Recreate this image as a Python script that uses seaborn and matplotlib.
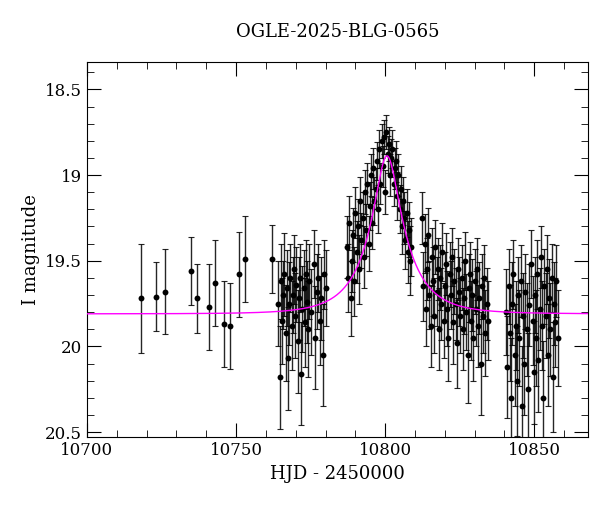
import numpy as np
import matplotlib
matplotlib.use("Agg")
import matplotlib.pyplot as plt
import seaborn as sns
import pandas as pd

hjd = [10718,10723,10726,10735,10737,10741,10743,10746,10748,10751,10753,10762,
 10764.2,10764.6,10765.0,10765.4,10765.8,10766.2,10766.6,10767.0,10767.4,10767.8,10768.2,10768.6,10769.0,10769.4,10769.8,10770.2,10770.6,10771.0,10771.4,10771.8,10772.2,10772.6,10773.0,10773.4,10773.8,10774.2,10774.6,10775.0,10776.0,10776.5,10777.0,10777.5,10778.0,10778.5,10779.0,10779.5,10780.0,
 10787.2,10787.6,10788.0,10788.4,10788.8,10789.2,10789.6,10790.0,10790.4,10790.8,10791.2,10791.6,10792.0,10792.4,10792.8,10793.2,10793.6,10794.0,10794.4,10794.8,10795.2,10795.6,10796.0,10796.4,10796.8,10797.2,10797.6,10798.0,10798.4,10798.8,10799.2,10799.6,10800.0,10800.4,10800.8,10801.2,10801.6,10802.0,10802.4,10802.8,10803.2,10803.6,10804.0,10804.4,10804.8,10805.2,10805.6,10806.0,10806.4,10806.8,10807.2,10807.6,10808.0,10808.4,10808.8,
 10812.4,10812.8,10813.2,10813.6,10814.0,10814.4,10814.8,10815.2,10815.6,10816.0,10816.4,10816.8,10817.2,10817.6,10818.0,10818.4,10818.8,10819.2,10819.6,10820.0,10820.4,10820.8,10821.2,10821.6,10822.0,10822.4,10822.8,10823.2,10823.6,10824.0,10824.4,10824.8,10825.2,10825.6,10826.0,10826.4,10826.8,10827.2,10827.6,10828.0,10828.4,10828.8,10829.2,10829.6,10830.0,10830.4,10830.8,10831.2,10831.6,10832.0,10832.4,10832.8,10833.2,10833.6,10834.0,10834.4,
 10840.6,10841.0,10841.4,10841.8,10842.2,10842.6,10843.0,10843.4,10843.8,10844.2,10844.6,10845.0,10845.4,10845.8,10846.2,10846.6,10847.0,10847.4,10847.8,10848.2,10849.0,10849.4,10849.8,10850.2,10850.6,10851.0,10851.4,10851.8,10852.2,10852.6,10853.0,10853.4,10853.8,10854.2,10854.6,10855.0,10855.4,10855.8,10856.2,10856.6,10857.0,10857.4,10857.8]
mag = [19.72,19.71,19.68,19.56,19.72,19.77,19.63,19.87,19.88,19.58,19.49,19.49,
 19.75,20.18,19.62,19.85,19.70,19.58,19.92,19.66,20.07,19.75,19.60,19.88,19.70,19.55,19.82,19.64,19.97,19.72,19.60,20.16,19.78,19.66,19.86,19.58,19.74,19.90,19.62,19.80,19.52,19.95,19.68,19.60,19.85,19.72,20.05,19.58,19.66,
 19.42,19.60,19.28,19.72,19.50,19.35,19.62,19.22,19.45,19.30,19.55,19.15,19.38,19.25,19.48,19.10,19.32,19.05,19.40,19.18,19.00,19.28,18.96,19.15,19.08,18.92,19.20,18.85,19.05,18.80,18.95,18.78,19.10,18.75,18.88,18.82,19.00,18.90,18.85,19.05,18.96,18.92,19.12,19.00,19.20,19.08,19.30,19.15,19.25,19.38,19.22,19.45,19.32,19.50,19.42,
 19.25,19.65,19.40,19.78,19.55,19.35,19.70,19.88,19.48,19.62,19.82,19.42,19.68,19.55,19.90,19.60,19.75,19.45,19.85,19.65,19.52,19.78,19.95,19.58,19.70,19.48,19.86,19.62,19.75,19.98,19.55,19.68,19.82,19.60,19.90,19.72,19.50,19.80,20.05,19.66,19.58,19.85,19.70,19.95,19.62,19.78,19.55,19.88,19.72,20.10,19.65,19.82,19.60,19.92,19.75,19.85,
 19.80,20.12,19.65,19.92,20.30,19.75,19.58,20.05,19.88,20.20,19.70,19.95,19.62,20.35,19.82,20.10,19.68,19.90,20.25,19.76,19.52,19.85,20.15,19.70,19.95,19.58,20.08,19.78,19.48,19.88,20.30,19.65,19.82,19.55,20.05,19.72,19.90,19.60,20.18,19.75,19.86,19.62,19.95]
err = [0.32,0.20,0.25,0.20,0.20,0.25,0.25,0.25,0.25,0.25,0.25,0.20,
 0.25,0.30,0.22,0.25,0.20,0.24,0.28,0.22,0.30,0.24,0.20,0.26,0.22,0.20,0.25,0.22,0.30,0.24,0.20,0.30,0.25,0.22,0.26,0.20,0.24,0.28,0.22,0.25,0.20,0.30,0.22,0.20,0.26,0.24,0.30,0.20,0.22,
 0.18,0.20,0.16,0.22,0.18,0.16,0.20,0.15,0.18,0.16,0.20,0.14,0.16,0.15,0.18,0.13,0.15,0.12,0.16,0.14,0.12,0.15,0.12,0.14,0.12,0.11,0.14,0.11,0.12,0.10,0.12,0.10,0.13,0.10,0.11,0.10,0.12,0.11,0.11,0.13,0.12,0.12,0.14,0.12,0.14,0.13,0.16,0.14,0.15,0.17,0.14,0.18,0.16,0.20,0.17,
 0.15,0.20,0.17,0.22,0.18,0.16,0.20,0.24,0.17,0.20,0.22,0.16,0.20,0.18,0.24,0.19,0.21,0.17,0.22,0.20,0.18,0.22,0.25,0.19,0.20,0.17,0.24,0.19,0.21,0.26,0.18,0.20,0.22,0.19,0.24,0.21,0.17,0.22,0.28,0.20,0.19,0.23,0.21,0.25,0.19,0.22,0.18,0.24,0.21,0.30,0.19,0.22,0.19,0.25,0.21,0.23,
 0.25,0.30,0.22,0.28,0.35,0.24,0.20,0.30,0.26,0.32,0.22,0.28,0.21,0.35,0.25,0.30,0.22,0.27,0.33,0.24,0.20,0.26,0.30,0.22,0.28,0.20,0.30,0.24,0.18,0.26,0.33,0.22,0.25,0.20,0.30,0.23,0.27,0.20,0.32,0.24,0.26,0.21,0.28]

# PSPL model parameters
t0, tE, u0, I0, fs = 10800.6, 14.0, 0.28, 19.81, 0.5

df = pd.DataFrame({"hjd": hjd, "mag": mag, "err": err})
plt.rcParams["font.family"] = "DejaVu Serif"
fig = plt.figure(figsize=(6, 5.12), dpi=100)
ax = fig.add_axes([0.145, 0.146, 0.835, 0.733])

ax.errorbar(df.hjd, df.mag, yerr=df.err, fmt="none", ecolor="black", elinewidth=1.0, capsize=2.5, capthick=0.8, alpha=0.85)
sns.scatterplot(data=df, x="hjd", y="mag", ax=ax, color="black", s=18, edgecolor="black", linewidth=0, zorder=3)

t = np.linspace(10700, 10870, 1500)
u = np.sqrt(u0**2 + ((t - t0) / tE)**2)
A = (u**2 + 2) / (u * np.sqrt(u**2 + 4))
m = I0 - 2.5 * np.log10(fs * A + 1 - fs)
sns.lineplot(x=t, y=m, ax=ax, color="magenta", linewidth=1.0, zorder=4)

ax.set_xlim(10700, 10868)
ax.set_ylim(20.53, 18.34)
ax.set_xticks([10700, 10750, 10800, 10850])
ax.set_xticks(np.arange(10700, 10870, 10), minor=True)
ax.set_yticks([18.5, 19, 19.5, 20, 20.5])
ax.set_yticklabels(["18.5", "19", "19.5", "20", "20.5"])
ax.set_yticks(np.arange(18.4, 20.55, 0.1), minor=True)
ax.tick_params(which="both", direction="in", top=True, right=True, labelsize=12)
ax.tick_params(which="major", length=10)
ax.tick_params(which="minor", length=5)
ax.set_xlabel("HJD - 2450000", fontsize=13)
ax.set_ylabel("I magnitude", fontsize=13)
ax.set_title("OGLE-2025-BLG-0565", fontsize=13, pad=18)
fig.savefig("out.png", dpi=100)
